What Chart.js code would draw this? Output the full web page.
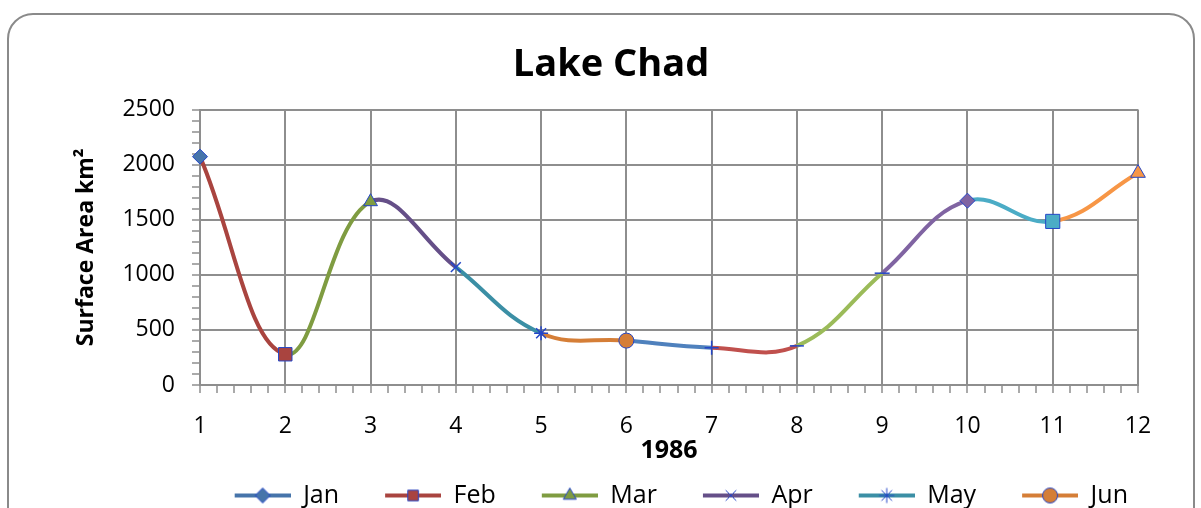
<!DOCTYPE html>
<html>
<head>
<meta charset="utf-8">
<script src="https://cdn.jsdelivr.net/npm/chart.js@4/dist/chart.umd.min.js"></script>
<style>
  html, body { margin: 0; padding: 0; background: #fff; overflow: hidden; }
  body { width: 1201px; height: 508px; position: relative; }
  .frame { position: absolute; left: 7px; top: 13px; width: 1188px; height: 560px; border: 2px solid #8a8a8a; border-radius: 26px; box-sizing: border-box; }
  .wrap { position: absolute; left: 0; top: 0; }
</style>
</head>
<body>
<div class="frame"></div>
<div class="wrap"><canvas id="myChart" width="1201" height="553"></canvas></div>
<script>
// data
const months = ['Jan', 'Feb', 'Mar', 'Apr', 'May', 'Jun', 'Jul', 'Aug', 'Sep', 'Oct', 'Nov', 'Dec'];
const xValues = [1, 2, 3, 4, 5, 6, 7, 8, 9, 10, 11, 12];
const surfaceArea = [2073, 279, 1664, 1070, 470, 403, 339, 355, 1015, 1673, 1485, 1924];

const lineColors = ['#4674AA', '#A9443F', '#7F9C41', '#654F88', '#3B8FA5', '#D57E37',
                    '#4F81BD', '#C0504D', '#9BBB59', '#8064A2', '#4BACC6', '#F79646'];
const markerStyles = ['rectRot', 'rect', 'triangle', 'crossRot', 'star', 'circle',
                      'cross', 'line', 'line', 'rectRot', 'rect', 'triangle'];
const markerSizes = [7.5, 9.5, 8, 7, 7, 7.5, 7, 7, 7.5, 7.5, 10, 8.5];
const markerEdge = '#2446C8';
const gridColor = '#8e8e8e';

Chart.defaults.font.family = "'Open Sans', sans-serif";
Chart.defaults.color = '#000';

function isMajor(v) {
  return Math.abs(v - Math.round(v)) < 1e-6;
}

// line + marker swatch, blank on the left to space the legend like Excel
function legendIcon(i) {
  const c = document.createElement('canvas');
  c.width = 92;
  c.height = 20;
  const g = c.getContext('2d');
  g.strokeStyle = lineColors[i];
  g.lineWidth = 4;
  g.beginPath();
  g.moveTo(36, 10);
  g.lineTo(92, 10);
  g.stroke();
  g.fillStyle = lineColors[i];
  g.strokeStyle = markerEdge;
  g.lineWidth = 1;
  Chart.helpers.drawPoint(g, { pointStyle: markerStyles[i], radius: 7.5, rotation: 0, borderWidth: 1 }, 64, 10);
  return c;
}

const ctx = document.getElementById('myChart').getContext('2d');
const chart = new Chart(ctx, {
  type: 'line',
  data: {
    datasets: [
      {
        label: 'Surface Area',
        data: xValues.map((x, i) => ({ x: x, y: surfaceArea[i] })),
        borderWidth: 4,
        tension: 0.4,
        clip: false,
        segment: {
          borderColor: (c) => lineColors[c.p1DataIndex],
        },
        pointStyle: markerStyles,
        pointRadius: markerSizes,
        pointBackgroundColor: lineColors,
        pointBorderColor: markerEdge,
        pointBorderWidth: markerStyles.map((s) => (s === 'line' || s === 'cross' || s === 'crossRot' || s === 'star' ? 1.5 : 1)),
      },
    ],
  },
  options: {
    responsive: false,
    animation: false,
    devicePixelRatio: 1,
    layout: { padding: { left: 84, right: 63, top: 10, bottom: 0 } },
    plugins: {
      title: {
        display: true,
        text: 'Lake Chad',
        font: { size: 38, weight: 'bold' },
        padding: { top: 32, bottom: 22 },
      },
      legend: {
        position: 'bottom',
        align: 'end',
        labels: {
          usePointStyle: true,
          pointStyleWidth: 92,
          padding: 10,
          font: { size: 25 },
          generateLabels: () =>
            months.map((m, i) => ({
              text: m,
              pointStyle: legendIcon(i),
              fillStyle: lineColors[i],
              strokeStyle: lineColors[i],
              lineWidth: 0,
              hidden: false,
              datasetIndex: 0,
            })),
        },
      },
      tooltip: { enabled: false },
    },
    scales: {
      x: {
        type: 'linear',
        min: 1,
        max: 12,
        ticks: {
          stepSize: 0.2,
          autoSkip: false,
          maxRotation: 0,
          padding: 20,
          font: { size: 23 },
          callback: (v) => (isMajor(v) ? Math.round(v) : ''),
        },
        grid: {
          color: (c) => (isMajor(c.tick.value) ? gridColor : 'transparent'),
          lineWidth: 2,
          tickLength: 8,
          tickColor: gridColor,
          tickWidth: 1.5,
        },
        border: { color: gridColor, width: 2 },
        title: {
          display: true,
          text: '1986',
          font: { size: 25, weight: 'bold' },
          padding: { top: 0, bottom: 7 },
        },
        afterFit: (s) => {
          s.height = 88;
        },
      },
      y: {
        min: 0,
        max: 2500,
        ticks: {
          stepSize: 100,
          autoSkip: false,
          padding: 17,
          font: { size: 23 },
          callback: (v) => (v % 500 === 0 ? v : ''),
        },
        grid: {
          color: (c) => (c.tick.value % 500 === 0 ? gridColor : 'transparent'),
          lineWidth: 2,
          tickLength: 8,
          tickColor: gridColor,
          tickWidth: 1.5,
        },
        border: { color: gridColor, width: 2 },
        title: {
          display: true,
          text: 'Surface Area km²',
          font: { size: 23, weight: 'bold' },
          padding: { top: -11, bottom: 0 },
        },
        afterFit: (s) => {
          s.width = 116;
        },
      },
    },
  },
});
</script>
</body>
</html>
